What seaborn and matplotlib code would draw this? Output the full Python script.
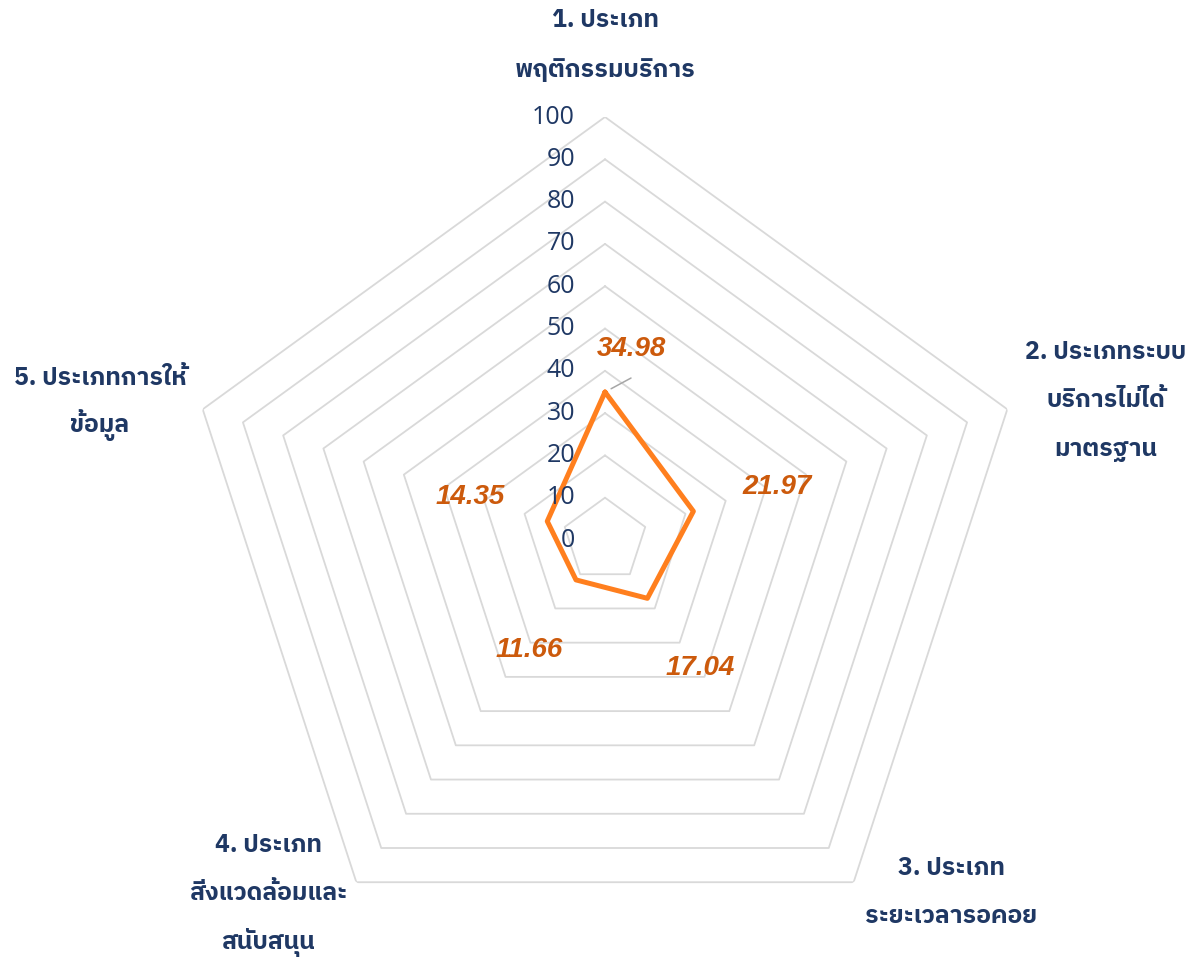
import numpy as np
import matplotlib
matplotlib.use("Agg")
import matplotlib.pyplot as plt
import seaborn as sns
from matplotlib import font_manager as fm
from matplotlib.ft2font import FT2Font

# ---- data ----
categories = [
    "1. ประเภท\nพฤติกรรมบริการ",
    "2. ประเภทระบบ\nบริการไม่ได้\nมาตรฐาน",
    "3. ประเภท\nระยะเวลารอคอย",
    "4. ประเภท\nสิ่งแวดล้อมและ\nสนับสนุน",
    "5. ประเภทการให้\nข้อมูล",
]
values = [34.98, 21.97, 17.04, 11.66, 14.35]
value_labels = ["34.98", "21.97", "17.04", "11.66", "14.35"]
ring_values = [10, 20, 30, 40, 50, 60, 70, 80, 90, 100]
tick_values = [0, 10, 20, 30, 40, 50, 60, 70, 80, 90, 100]

sns.set_theme(style="white")

# find a font with Thai glyphs
def find_thai_family():
    best = None
    for f in fm.fontManager.ttflist:
        try:
            cm = FT2Font(f.fname).get_charmap()
        except Exception:
            continue
        if 0x0E1B in cm and 0x0E20 in cm:
            score = 0
            if "Thai" in f.name:
                score += 2
            if f.weight in ("bold", 700) or (isinstance(f.weight, int) and f.weight >= 600):
                score += 1
            if best is None or score > best[0]:
                best = (score, f.name)
    return best[1] if best else None

thai = find_thai_family()
thai_fam = [thai, "DejaVu Sans"] if thai else ["DejaVu Sans"]

NAVY = "#1F3864"
ORANGE = "#FF7F1E"
LABEL_OR = "#CC5A0C"
GRID = "#D9D9D9"

W, H = 1198, 957
fig = plt.figure(figsize=(W / 100, H / 100), dpi=100)
cx, cy, R = 605, 540, 423
ax = fig.add_axes([(cx - R) / W, 1 - (cy + R) / H, 2 * R / W, 2 * R / H], projection="polar")
ax.set_theta_offset(np.pi / 2)
ax.set_theta_direction(-1)
ax.set_ylim(0, 100)
ax.grid(False)
ax.set_xticks([])
ax.set_yticks([])
ax.spines["polar"].set_visible(False)
ax.set_facecolor("none")

n = len(values)
theta = np.linspace(0, 2 * np.pi, n, endpoint=False)
theta_c = np.append(theta, theta[0])

for v in ring_values:
    ax.plot(theta_c, [v] * (n + 1), color=GRID, lw=1.3, zorder=1)

vals_c = np.append(values, values[0])
sns.lineplot(x=theta_c, y=vals_c, sort=False, ax=ax, color=ORANGE, lw=3.6, zorder=3,
             estimator=None)
ax.set_xlabel("")
ax.set_ylabel("")
ax.set_xticks([])
ax.set_yticks([])
ax.set_ylim(0, 100)

# radial tick labels
for v in tick_values:
    ax.annotate(str(v), xy=(0, v), xytext=(-30, 0), textcoords="offset pixels",
                ha="right", va="center", fontsize=18, color=NAVY,
                family=["Open Sans", "DejaVu Sans"], annotation_clip=False)

# data labels
offsets = [(26, 43), (84, 24), (53, -70), (-47, -70), (-77, 24)]
for t, v, lab, off in zip(theta, values, value_labels, offsets):
    ax.annotate(lab, xy=(t, v), xytext=off, textcoords="offset pixels",
                ha="center", va="center", fontsize=20, color=LABEL_OR,
                fontweight="bold", fontstyle="italic",
                family=["Liberation Sans", "DejaVu Sans"], annotation_clip=False)
# leader line for first label
ax.annotate("", xy=(theta[0], values[0]), xytext=(26, 14), textcoords="offset pixels",
            arrowprops=dict(arrowstyle="-", color="#A6A6A6", lw=1.1, shrinkA=0, shrinkB=5),
            annotation_clip=False)

# category labels
cat_pos = [(605, [20, 70]), (1106, [352, 400, 450]), (951, [868, 916]),
           (268, [845, 893, 942]), (100, [378, 425])]
for cat, (x, ys) in zip(categories, cat_pos):
    for line, y in zip(cat.split("\n"), ys):
        fig.text(x / W, 1 - y / H, line, ha="center", va="center", fontsize=17.8,
                 fontweight="bold", color=NAVY, family=thai_fam)

fig.savefig("out.png", dpi=100)
